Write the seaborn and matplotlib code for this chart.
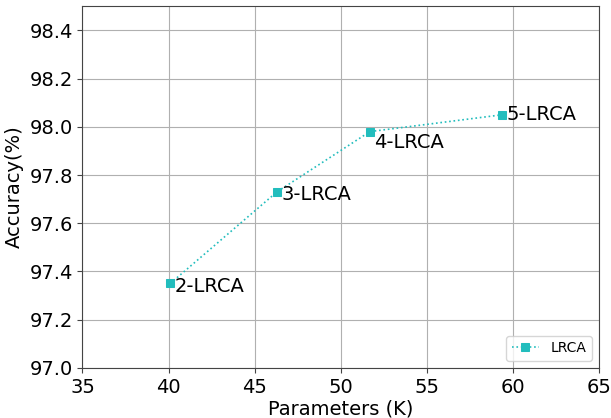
import matplotlib
matplotlib.use("Agg")
import matplotlib.pyplot as plt
import seaborn as sns
import pandas as pd

params = [40.1, 46.3, 51.7, 59.4]
accuracy = [97.35, 97.73, 97.98, 98.05]
labels = ["2-LRCA", "3-LRCA", "4-LRCA", "5-LRCA"]
series = "LRCA"

df = pd.DataFrame({"Parameters": params, "Accuracy": accuracy, "model": [series] * 4})

sns.set_style("ticks")
plt.rcParams['font.family'] = ['DejaVu Sans']
plt.rcParams['text.color'] = 'black'
plt.rcParams['axes.labelcolor'] = 'black'
plt.rcParams['xtick.color'] = 'black'
plt.rcParams['ytick.color'] = 'black'

fig, ax = plt.subplots(figsize=(6.11, 4.18), dpi=100)
color = "#22BDBD"
sns.lineplot(data=df, x="Parameters", y="Accuracy", ax=ax, color=color,
             linestyle=":", marker="s", markersize=5.5, markeredgecolor=color,
             linewidth=1.2, label=series)

offsets = [(3, -2), (3, -2), (3, -1), (3, 0)]
vas = ["center", "center", "top", "center"]
for x, y, t, off, va in zip(params, accuracy, labels, offsets, vas):
    ax.annotate(t, (x, y), xytext=off, textcoords="offset points",
                fontsize=14, ha="left", va=va, color="black")

ax.set_xlim(35, 65)
ax.set_ylim(97.0, 98.5)
ax.set_xticks(range(35, 66, 5))
ax.set_yticks([97.0, 97.2, 97.4, 97.6, 97.8, 98.0, 98.2, 98.4])
ax.tick_params(labelsize=14, length=3.5, width=0.8, color="#444444",
               labelcolor="black", direction="out", bottom=True, left=True)
ax.set_xlabel("Parameters (K)", fontsize=14, labelpad=2)
ax.set_ylabel("Accuracy(%)", fontsize=14)
ax.grid(True, color="#b0b0b0", linewidth=0.8)
for s in ax.spines.values():
    s.set_color("#444444")
    s.set_linewidth(0.8)
ax.legend(loc="lower right", fontsize=10)

fig.subplots_adjust(left=0.135, right=0.98, bottom=0.12, top=0.985)
fig.savefig("out.png", dpi=100)
